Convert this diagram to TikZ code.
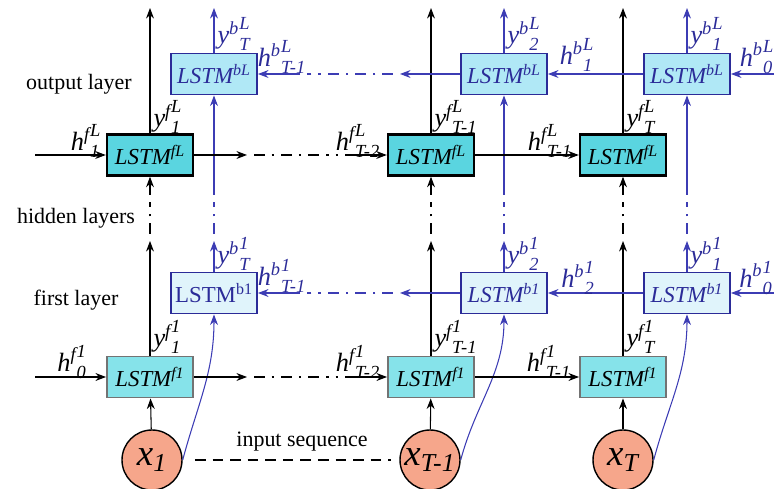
\documentclass[tikz,border=0pt]{standalone}
\usepackage{amsmath}
\usepackage{fontspec}
\setmainfont{Liberation Serif}
\usetikzlibrary{arrows.meta, positioning}
\definecolor{fwdtop}{HTML}{5AD5E0}
\definecolor{fwdone}{HTML}{86E3EA}
\definecolor{bwdtop}{HTML}{B0E8F6}
\definecolor{bwdone}{HTML}{E0F4FB}
\definecolor{navy}{HTML}{2B2B98}
\definecolor{lstmblue}{HTML}{3C3CB4}
\definecolor{inp}{HTML}{F6A68B}
\tikzset{>/.tip={Stealth[length=6pt,width=4.5pt]}}
\tikzset{lstm/.style={rectangle, minimum width=1.72cm, minimum height=0.82cm, inner sep=0pt,
    font=\fontsize{13}{15}\selectfont\itshape}}
\tikzset{fwdL/.style={lstm, draw=black, line width=1.4pt, fill=fwdtop}}
\tikzset{fwdone/.style={lstm, draw=black!55, line width=1.1pt, fill=fwdone}}
\tikzset{bwdL/.style={lstm, draw=navy, line width=1.1pt, fill=bwdtop, text=navy}}
\tikzset{bwdone/.style={lstm, draw=navy, line width=1.1pt, fill=bwdone, text=navy}}
\tikzset{inode/.style={circle, draw=black, line width=0.8pt, fill=inp, minimum size=1.2cm, inner sep=0pt,
    font=\fontsize{21}{24}\selectfont}}
\tikzset{lab/.style={font=\fontsize{15}{17}\selectfont, inner sep=0pt}}
\tikzset{blab/.style={lab, text=navy}}
\tikzset{layer/.style={font=\fontsize{12.5}{14}\selectfont, inner sep=0pt}}
\tikzset{bline/.style={draw=lstmblue}}
\tikzset{skipline/.style={line width=1.2pt, dash pattern=on 6pt off 4pt on 1.5pt off 4pt,
    shorten <=4pt, shorten >=4pt}}
\newcommand{\hv}[4]{$\textit{#1}^{\textit{#2}}{}^{\text{\raisebox{0.3em}{\textit{#3}}}}_{\textit{#4}}$}

\begin{document}
\begin{tikzpicture}[x=0.02cm, y=-0.02cm, line width=0.6pt]
  \useasboundingbox (0,0) rectangle (774,489);
  % output layer
  \node(fL1) [fwdL] at (150,155) {LSTM\textsuperscript{fL}};
  \node(fL2) [fwdL] at (431,155) {LSTM\textsuperscript{fL}};
  \node(fL3) [fwdL] at (623,155) {LSTM\textsuperscript{fL}};
  \node(bL1) [bwdL] at (214,74) {LSTM\textsuperscript{bL}};
  \node(bL2) [bwdL] at (504,74) {LSTM\textsuperscript{bL}};
  \node(bL3) [bwdL] at (687,74) {LSTM\textsuperscript{bL}};
  % first layer
  \node(fa1) [fwdone] at (150,377) {LSTM\textsuperscript{f1}};
  \node(fa2) [fwdone] at (431,377) {LSTM\textsuperscript{f1}};
  \node(fa3) [fwdone] at (623,377) {LSTM\textsuperscript{f1}};
  \node(ba1) [bwdone] at (214,293) {\upshape LSTM\textsuperscript{b1}};
  \node(ba2) [bwdone] at (504,293) {LSTM\textsuperscript{b1}};
  \node(ba3) [bwdone] at (687,293) {LSTM\textsuperscript{b1}};
  % inputs
  \node(x1) [inode] at (152,460) {$\textit{x}_{\textit{1}}$};
  \node(x2) [inode] at (430,460) {$\textit{x}_{\textit{T-1}}$};
  \node(x3) [inode] at (623,460) {$\textit{x}_{\textit{T}}$};

  \node(out) [layer] at (79,84) {output layer};
  \node(hid) [layer] at (76,218) {hidden layers};
  \node(fst) [layer] at (76,300) {first layer};
  \node(seq) [layer] at (302,442) {input sequence};

  % free ends
  \coordinate (fin) at (35,155);
  \coordinate (fin1) at (35,377);
  \coordinate (bin) at (774,74);
  \coordinate (bin1) at (774,293);
  \coordinate (ftA) at (247,155);
  \coordinate (ftB) at (345,155);
  \coordinate (faA) at (247,377);
  \coordinate (faB) at (345,377);
  \coordinate (btA) at (400,74);
  \coordinate (btB) at (300,74);
  \coordinate (baA) at (400,293);
  \coordinate (baB) at (300,293);

  \foreach \c/\xf/\xb in {1/150/214, 2/431/504, 3/623/687}{
    \coordinate (fo\c) at (\xf,8);
    \coordinate (bo\c) at (\xb,8);
    \coordinate (fs\c) at (\xf,241);
    \coordinate (fd\c) at (\xf,195);
    \coordinate (bs\c) at (\xb,241);
    \coordinate (bd\c) at (\xb,195);
    \draw[->] (fL\c) -- (fo\c);
    \draw[->, bline] (bL\c) -- (bo\c);
    \draw[->] (fa\c) -- (fs\c);
    \draw[skipline] (fs\c) -- (fd\c);
    \draw[->] (fd\c) -- (fL\c);
    \draw[->, bline] (ba\c) -- (bs\c);
    \draw[skipline, bline] (bs\c) -- (bd\c);
    \draw[->, bline] (bd\c) -- (bL\c);
    \draw[->] (x\c) -- (fa\c);
    \draw[->, bline] (x\c.east) to[out=75, in=-90] (ba\c.south);
  }

  % forward chains
  \draw[->] (fin) -- (fL1);
  \draw[->] (fL1) -- (ftA);
  \draw[skipline] (ftA) -- (ftB);
  \draw[->] (ftB) -- (fL2);
  \draw[->] (fL2) -- (fL3);
  \draw[->] (fin1) -- (fa1);
  \draw[->] (fa1) -- (faA);
  \draw[skipline] (faA) -- (faB);
  \draw[->] (faB) -- (fa2);
  \draw[->] (fa2) -- (fa3);
  % backward chains
  \draw[->, bline] (bin) -- (bL3);
  \draw[->, bline] (bL3) -- (bL2);
  \draw[->, bline] (bL2) -- (btA);
  \draw[skipline, bline] (btA) -- (btB);
  \draw[->, bline] (btB) -- (bL1);
  \draw[->, bline] (bin1) -- (ba3);
  \draw[->, bline] (ba3) -- (ba2);
  \draw[->, bline] (ba2) -- (baA);
  \draw[skipline, bline] (baA) -- (baB);
  \draw[->, bline] (baB) -- (ba1);
  \draw[skipline, shorten <=7pt, shorten >=5pt, dash pattern=on 6pt off 4pt] (x1) -- (x2);

  % state labels
  \node(hfL1) [lab] at (86,141) {\hv{h}{f}{L}{1}};
  \node(hfL2) [lab] at (358,141) {\hv{h}{f}{L}{T-2}};
  \node(hfL3) [lab] at (550,141) {\hv{h}{f}{L}{T-1}};
  \node(hfa1) [lab] at (72,362) {\hv{h}{f}{1}{0}};
  \node(hfa2) [lab] at (358,362) {\hv{h}{f}{1}{T-2}};
  \node(hfa3) [lab] at (549,362) {\hv{h}{f}{1}{T-1}};
  \node(hbL1) [blab] at (282,57) {\hv{h}{b}{L}{T-1}};
  \node(hbL2) [blab] at (577,55) {\hv{h}{b}{L}{1}};
  \node(hbL3) [blab] at (757,57) {\hv{h}{b}{L}{0}};
  \node(hba1) [blab] at (282,276) {\hv{h}{b}{1}{T-1}};
  \node(hba2) [blab] at (578,278) {\hv{h}{b}{1}{2}};
  \node(hba3) [blab] at (756,278) {\hv{h}{b}{1}{0}};
  % output labels
  \node(yfL1) [lab, anchor=west] at (153,117) {\hv{y}{f}{L}{1}};
  \node(yfL2) [lab, anchor=west] at (434,117) {\hv{y}{f}{L}{T-1}};
  \node(yfL3) [lab, anchor=west] at (626,117) {\hv{y}{f}{L}{T}};
  \node(ybL1) [blab, anchor=west] at (217,34) {\hv{y}{b}{L}{T}};
  \node(ybL2) [blab, anchor=west] at (507,34) {\hv{y}{b}{L}{2}};
  \node(ybL3) [blab, anchor=west] at (690,34) {\hv{y}{b}{L}{1}};
  \node(yfa1) [lab, anchor=west] at (153,337) {\hv{y}{f}{1}{1}};
  \node(yfa2) [lab, anchor=west] at (434,337) {\hv{y}{f}{1}{T-1}};
  \node(yfa3) [lab, anchor=west] at (626,337) {\hv{y}{f}{1}{T}};
  \node(yba1) [blab, anchor=west] at (217,254) {\hv{y}{b}{1}{T}};
  \node(yba2) [blab, anchor=west] at (507,254) {\hv{y}{b}{1}{2}};
  \node(yba3) [blab, anchor=west] at (690,254) {\hv{y}{b}{1}{1}};
\end{tikzpicture}
\end{document}
